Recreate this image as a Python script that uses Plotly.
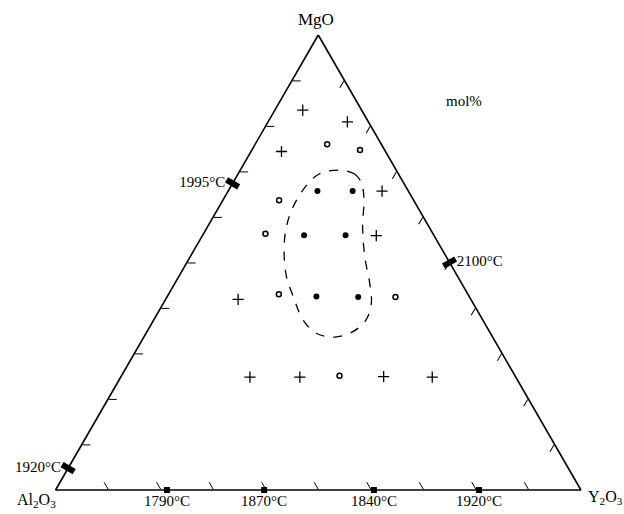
import plotly.graph_objects as go

# ---- data (mol%: MgO, Al2O3, Y2O3) ----
plus_mgo   = [83.5, 80.9, 74.4, 65.7, 55.9, 41.9, 24.8, 24.8, 24.9, 24.8]
plus_al2o3 = [11.2,  4.0, 19.8,  5.0, 11.0, 44.3, 50.6, 41.1, 25.1, 15.9]
plus_y2o3  = [ 5.3, 15.1,  5.8, 29.3, 33.1, 13.8, 24.6, 34.1, 50.0, 59.3]

open_mgo   = [76.0, 74.7, 63.7, 56.3, 43.0, 42.4, 25.1]
open_al2o3 = [10.3,  4.7, 25.6, 31.9, 36.0, 14.1, 33.4]
open_y2o3  = [13.7, 20.6, 10.7, 11.8, 21.0, 43.5, 41.5]

fill_mgo   = [65.7, 65.7, 56.0, 56.0, 42.5, 42.4]
fill_al2o3 = [17.3, 10.6, 24.7, 16.8, 29.1, 21.2]
fill_y2o3  = [17.0, 23.7, 19.3, 27.2, 28.4, 36.4]

curve_mgo   = [70.3, 69.5, 67.6, 64.0, 57.9, 51.3, 45.4, 41.0, 37.4, 34.8, 33.6, 34.4,
               37.4, 42.5, 46.9, 52.8, 57.9, 62.3, 67.0, 69.5, 70.3]
curve_al2o3 = [10.8,  8.4,  8.0,  9.3, 12.6, 15.5, 17.5, 19.4, 22.2, 26.0, 30.1, 33.1,
               34.2, 33.5, 32.6, 30.1, 27.1, 23.6, 18.7, 15.0, 10.8]
curve_y2o3  = [18.9, 22.1, 24.4, 26.7, 29.5, 33.2, 37.1, 39.6, 40.4, 39.2, 36.3, 32.5,
               28.4, 24.0, 20.5, 17.1, 15.0, 14.1, 14.3, 15.5, 18.9]

left_mgo, left_al2o3, left_y2o3 = [67.4, 4.8], [32.6, 95.2], [0, 0]
left_text = ["1995°C", "1920°C"]
right_mgo, right_al2o3, right_y2o3 = [50.0], [0], [50.0]
right_text = ["2100°C"]
bot_mgo   = [0, 0, 0, 0]
bot_al2o3 = [78.8, 60.3, 39.4, 19.4]
bot_y2o3  = [21.2, 39.7, 60.6, 80.6]
bot_text  = ["1790°C", "1870°C", "1840°C", "1920°C"]

FONT = "Liberation Serif"
TFS = 15

fig = go.Figure()

fig.add_trace(go.Scatterternary(
    a=curve_mgo, b=curve_al2o3, c=curve_y2o3, mode="lines",
    line=dict(color="black", width=1.3, dash="dash", shape="spline", smoothing=1.0),
    hoverinfo="skip"))

fig.add_trace(go.Scatterternary(
    a=plus_mgo, b=plus_al2o3, c=plus_y2o3, mode="markers",
    marker=dict(symbol="cross-thin", size=8, line=dict(color="black", width=1.3))))
fig.add_trace(go.Scatterternary(
    a=open_mgo, b=open_al2o3, c=open_y2o3, mode="markers",
    marker=dict(symbol="circle-open", size=5, color="black", line=dict(color="black", width=1.5))))
fig.add_trace(go.Scatterternary(
    a=fill_mgo, b=fill_al2o3, c=fill_y2o3, mode="markers",
    marker=dict(symbol="circle", size=6, color="black")))

fig.add_trace(go.Scatterternary(
    a=left_mgo, b=left_al2o3, c=left_y2o3, mode="markers+text",
    text=left_text, textposition=["middle left", "middle left"],
    textfont=dict(family=FONT, size=TFS, color="black"),
    marker=dict(symbol="line-ew", size=10, angle=30, line=dict(color="black", width=6)),
    cliponaxis=False))
fig.add_trace(go.Scatterternary(
    a=right_mgo, b=right_al2o3, c=right_y2o3, mode="markers+text",
    text=right_text, textposition="middle right",
    textfont=dict(family=FONT, size=TFS, color="black"),
    marker=dict(symbol="line-ew", size=10, angle=-30, line=dict(color="black", width=6)),
    cliponaxis=False))
fig.add_trace(go.Scatterternary(
    a=bot_mgo, b=bot_al2o3, c=bot_y2o3, mode="markers+text",
    text=bot_text, textposition="bottom center",
    textfont=dict(family=FONT, size=TFS, color="black"),
    marker=dict(symbol="square", size=6, color="black"),
    cliponaxis=False))

axis_common = dict(showgrid=False, showticklabels=False, ticks="inside", ticklen=8,
                   tickwidth=1.2, tickcolor="black", dtick=10, tick0=0,
                   linecolor="black", linewidth=1.6, min=0, title=dict(text=""))

def label(text, x, y, size):
    return dict(text=text, x=x, y=y, xref="paper", yref="paper", showarrow=False,
                xanchor="center", yanchor="middle",
                font=dict(family=FONT, size=size, color="black"))

fig.update_layout(
    width=624, height=514,
    margin=dict(l=0, r=0, t=0, b=0),
    paper_bgcolor="white",
    showlegend=False,
    ternary=dict(
        sum=100,
        bgcolor="white",
        domain=dict(x=[0.088, 0.932], y=[0.0467, 0.9319]),
        aaxis=axis_common, baxis=axis_common, caxis=axis_common),
    annotations=[
        label("MgO", 0.5064, 0.963, 17),
        label("Al<sub>2</sub>O<sub>3</sub>", 0.058, 0.027, 16),
        label("Y<sub>2</sub>O<sub>3</sub>", 0.971, 0.033, 16),
        label("mol%", 0.743, 0.803, 15),
    ],
)

fig.write_html("out.html")
